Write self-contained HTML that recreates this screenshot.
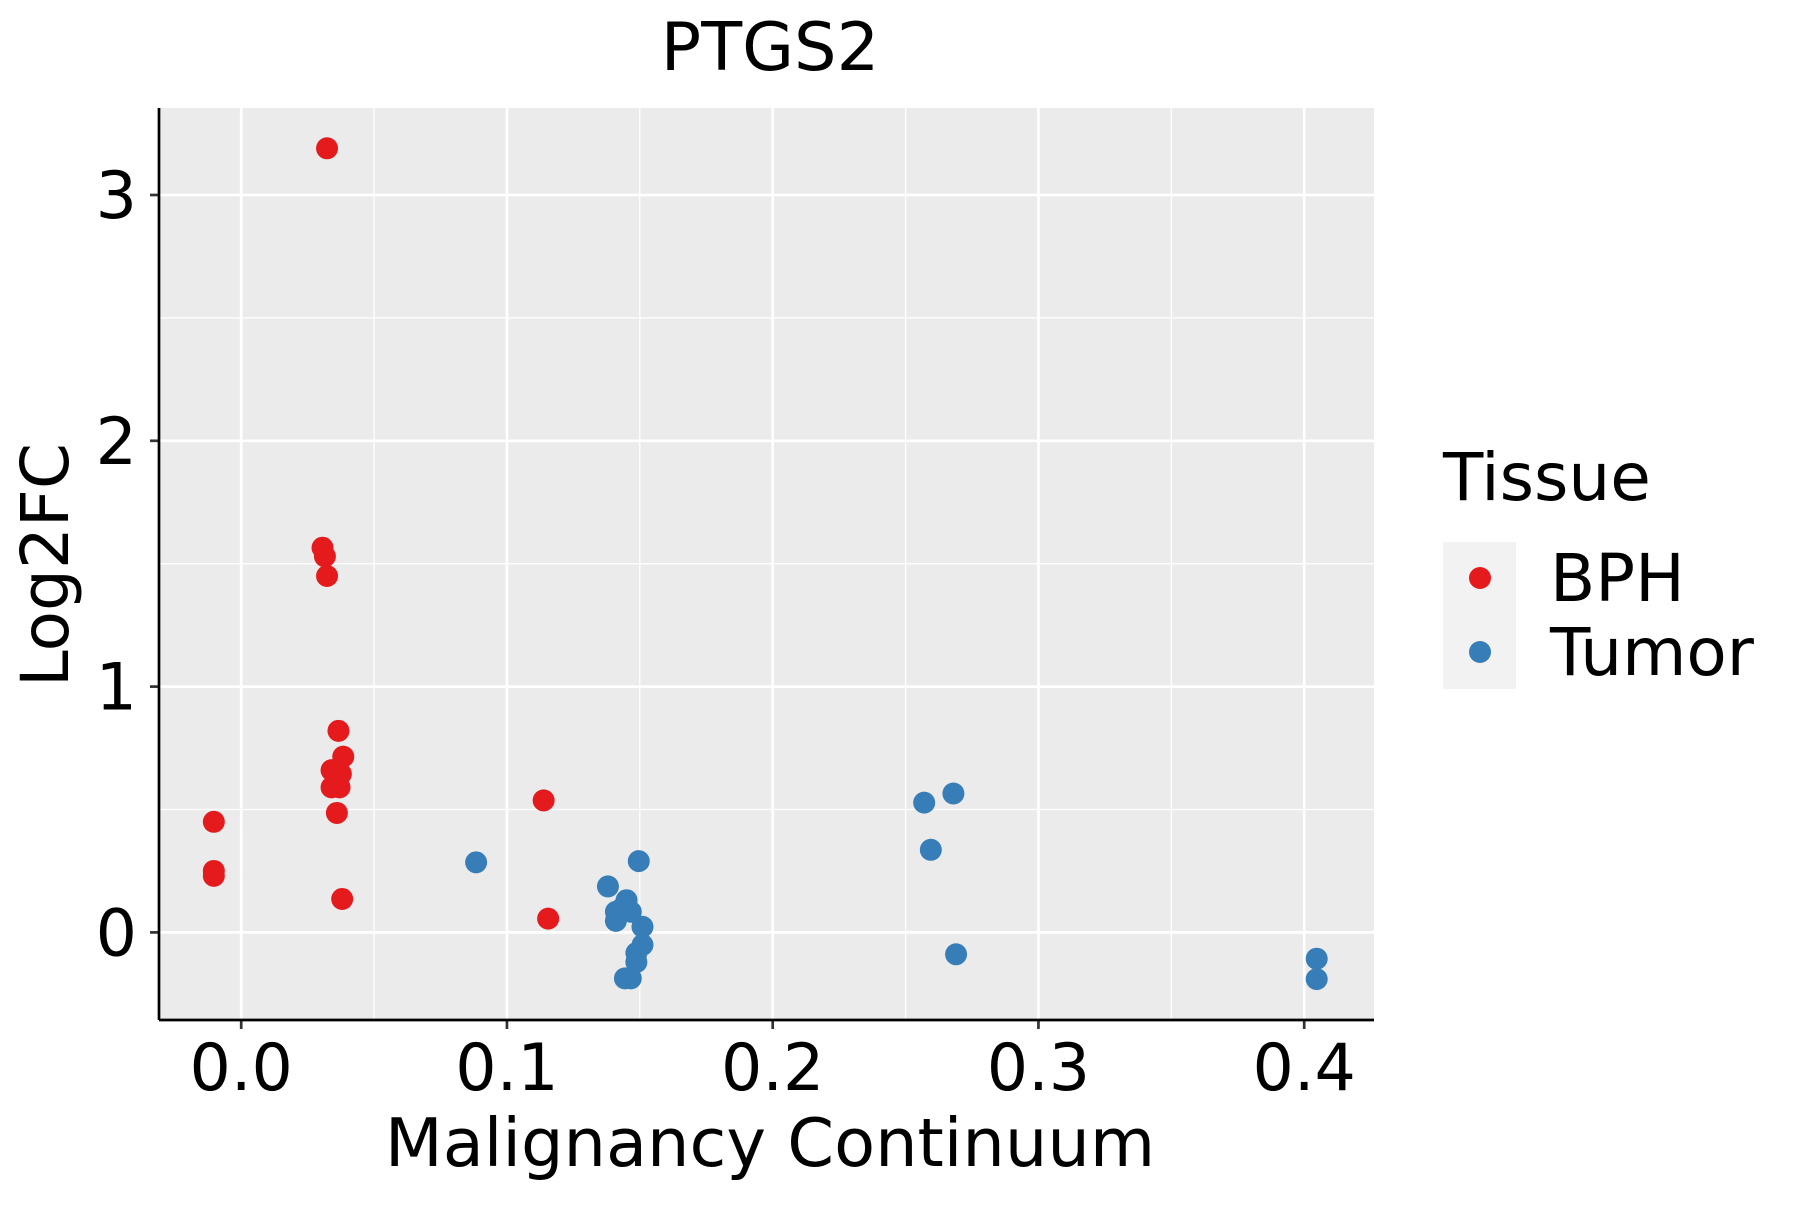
<!DOCTYPE html>
<html><head><meta charset="utf-8"><style>
body{margin:0;background:#fff}
svg text{font-family:"DejaVu Sans","Liberation Sans",sans-serif;fill:#000}
</style></head><body>
<svg width="1800" height="1200" viewBox="0 0 1800 1200" xmlns="http://www.w3.org/2000/svg">
<rect x="159" y="108" width="1215" height="912" fill="#ebebeb"/>
<g id="grid"></g><g id="pts"></g><g id="axes"></g>
<text x="770" y="70" font-size="67" text-anchor="middle">PTGS2</text>
<text x="770" y="1166" font-size="67" text-anchor="middle">Malignancy Continuum</text>
<text transform="translate(68,565) rotate(-90)" font-size="66" text-anchor="middle">Log2FC</text>
<g>
<text x="1443" y="500" font-size="66">Tissue</text>
<rect x="1443" y="542" width="73" height="147" fill="#f2f2f2"/>
<circle cx="1480" cy="578" r="11" fill="#e41a1c"/>
<circle cx="1480" cy="652" r="11" fill="#377eb8"/>
<text x="1550" y="601" font-size="66">BPH</text>
<text x="1550" y="675" font-size="66">Tumor</text>
</g>
</svg>
<script>
const xTicks=[0,0.1,0.2,0.3,0.4];
const xTickLabels=["0.0","0.1","0.2","0.3","0.4"];
const yTicks=[0,1,2,3];
const yTickLabels=["0","1","2","3"];
const bphX=[-0.0103,-0.0103,-0.0103,0.0323,0.0306,0.0315,0.0323,0.0366,0.0384,0.034,0.0375,0.034,0.037,0.036,0.038,0.1138,0.1155];
const bphY=[0.45,0.25,0.23,3.19,1.565,1.53,1.45,0.82,0.715,0.66,0.645,0.59,0.59,0.486,0.136,0.537,0.056];
const tumX=[0.0884,0.138,0.1496,0.145,0.141,0.1466,0.141,0.1435,0.151,0.151,0.1487,0.1487,0.1444,0.1466,0.257,0.268,0.2595,0.269,0.4047,0.4047];
const tumY=[0.285,0.187,0.29,0.131,0.084,0.084,0.047,0.1,0.023,-0.051,-0.084,-0.121,-0.187,-0.187,0.528,0.565,0.336,-0.089,-0.107,-0.19];
const NS="http://www.w3.org/2000/svg";
const X=v=>241.2+v*2657.5;
const Y=v=>932.4-v*245.8;
const L=159,R=1374,T=108,B=1020;
function mk(tag,attrs,parent){const e=document.createElementNS(NS,tag);for(const k in attrs)e.setAttribute(k,attrs[k]);parent.appendChild(e);return e;}
const grid=document.getElementById('grid'),pts=document.getElementById('pts'),axes=document.getElementById('axes');
for(let i=0;i<xTicks.length;i++){
 const mid=xTicks[i]+0.05;
 if(X(mid)<R){const m=mk('line',{x1:X(mid),x2:X(mid),y1:T,y2:B,stroke:'#fff','stroke-width':1.3},grid);
 
 }
 const g=mk('line',{x1:X(xTicks[i]),x2:X(xTicks[i]),y1:T,y2:B,stroke:'#fff','stroke-width':2.7},grid);
 
 
 const t=mk('line',{x1:X(xTicks[i]),x2:X(xTicks[i]),y1:B,y2:B+9,stroke:'#333','stroke-width':2.7},axes);
 
 
 const tx=mk('text',{x:X(xTicks[i]),y:1090,'font-size':65,'text-anchor':'middle'},axes);
 tx.textContent=xTickLabels[i];
 
 
}
for(let i=0;i<yTicks.length;i++){
 const mid=yTicks[i]+0.5;
 if(Y(mid)>T){const m=mk('line',{x1:L,x2:R,y1:Y(mid),y2:Y(mid),stroke:'#fff','stroke-width':1.3},grid);
 
 }
 const g=mk('line',{x1:L,x2:R,y1:Y(yTicks[i]),y2:Y(yTicks[i]),stroke:'#fff','stroke-width':2.7},grid);
 
 
 const t=mk('line',{x1:L-9,x2:L,y1:Y(yTicks[i]),y2:Y(yTicks[i]),stroke:'#333','stroke-width':2.7},axes);
 
 
 const tx=mk('text',{x:137,y:Y(yTicks[i])+23,'font-size':65,'text-anchor':'end'},axes);
 tx.textContent=yTickLabels[i];
 
 
}
const xa=mk('line',{x1:L,x2:R,y1:B,y2:B,stroke:'#000','stroke-width':2.7},axes);


const ya=mk('line',{x1:L,x2:L,y1:T,y2:B,stroke:'#000','stroke-width':2.7},axes);


for(let i=0;i<bphX.length;i++){
 const c=mk('circle',{cx:X(bphX[i]),cy:Y(bphY[i]),r:11,fill:'#e41a1c'},pts);
 
 
}
for(let i=0;i<tumX.length;i++){
 const c=mk('circle',{cx:X(tumX[i]),cy:Y(tumY[i]),r:11,fill:'#377eb8'},pts);
 
 
}
</script>
</body></html>
